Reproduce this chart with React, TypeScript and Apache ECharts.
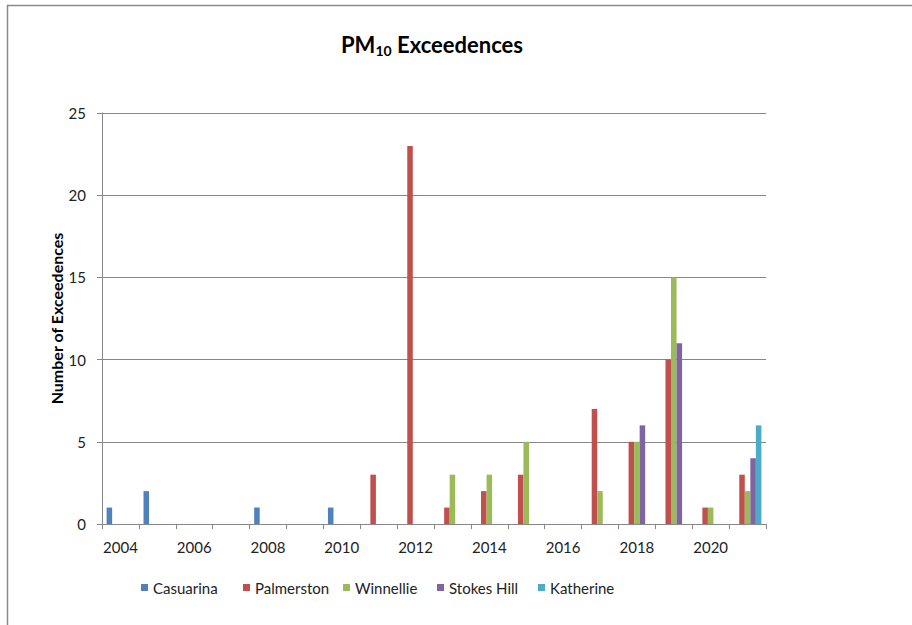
import React, { useEffect, useRef } from "react";
import * as echarts from "echarts";

const years = ["2004","2005","2006","2007","2008","2009","2010","2011","2012","2013","2014","2015","2016","2017","2018","2019","2020","2021"];
const casuarina = [1,2,0,0,1,0,1,0,0,0,0,0,0,0,0,0,0,0];
const palmerston = [0,0,0,0,0,0,0,3,23,1,2,3,0,7,5,10,1,3];
const winnellie = [0,0,0,0,0,0,0,0,0,3,3,5,0,2,5,15,1,2];
const stokesHill = [0,0,0,0,0,0,0,0,0,0,0,0,0,0,6,11,0,4];
const katherine = [0,0,0,0,0,0,0,0,0,0,0,0,0,0,0,0,0,6];
const seriesNames = ["Casuarina","Palmerston","Winnellie","Stokes Hill","Katherine"];
const colors = ["#4F81BD","#C0504D","#9BBB59","#8064A2","#4BACC6"];
const legendLefts = [141, 243, 343, 437, 538];

export default function App() {
  const ref = useRef<HTMLDivElement>(null);
  useEffect(() => {
    const chart = echarts.init(ref.current!, null, { renderer: "svg" });
    const font = "Lato, 'Open Sans', sans-serif";
    const data = [casuarina, palmerston, winnellie, stokesHill, katherine];
    chart.setOption({
      animation: false,
      backgroundColor: "#ffffff",
      color: colors,
      textStyle: { fontFamily: font },
      title: {
        text: "PM{sub|10} Exceedences",
        left: 427,
        top: 26,
        textAlign: "center",
        textStyle: {
          fontFamily: font,
          fontSize: 22,
          fontWeight: "bold",
          color: "#000",
          rich: {
            sub: { fontSize: 14, fontWeight: "bold", verticalAlign: "bottom", padding: [12, 0, 0, 0], fontFamily: font, color: "#000" },
          },
        },
      },
      graphic: [
        {
          type: "rect",
          shape: { x: 7.5, y: 5.5, width: 920, height: 640 },
          style: { fill: "none", stroke: "#8a8a8a", lineWidth: 1.5 },
          silent: true,
        },
      ],
      legend: seriesNames.map((n, i) => ({
        left: legendLefts[i],
        top: 580,
        padding: 0,
        itemWidth: 7,
        itemHeight: 7,
        itemGap: 0,
        icon: "rect",
        textStyle: { fontFamily: font, fontSize: 15, color: "#222" },
        data: [n],
      })),
      grid: { left: 102, right: 146, top: 113, bottom: 101 },
      xAxis: {
        type: "category",
        data: years,
        axisLine: { lineStyle: { color: "#878787", width: 1 } },
        axisTick: { show: true, interval: 0, length: 5, lineStyle: { color: "#878787" } },
        axisLabel: { interval: 1, color: "#222", fontSize: 15, fontFamily: font, margin: 15 },
      },
      yAxis: {
        type: "value",
        min: 0,
        max: 25,
        interval: 5,
        name: "Number of Exceedences",
        nameLocation: "middle",
        nameGap: 38,
        nameMoveOverlap: false,
        nameTextStyle: { fontFamily: font, fontSize: 16, fontWeight: "bold", color: "#000" },
        axisLine: { show: true, lineStyle: { color: "#878787", width: 1 } },
        axisTick: { show: true, length: 5, lineStyle: { color: "#878787" } },
        axisLabel: { color: "#222", fontSize: 15, fontFamily: font, margin: 16 },
        splitLine: { lineStyle: { color: "#878787", width: 1 } },
      },
      series: seriesNames.map((n, i) => ({
        name: n,
        type: "bar",
        data: data[i],
        barGap: "0%",
        barCategoryGap: "25%",
        itemStyle: { color: colors[i] },
      })),
    });
    return () => chart.dispose();
  }, []);
  return <div ref={ref} style={{ position: "fixed", left: 0, top: 0, width: 912, height: 625 }} />;
}
